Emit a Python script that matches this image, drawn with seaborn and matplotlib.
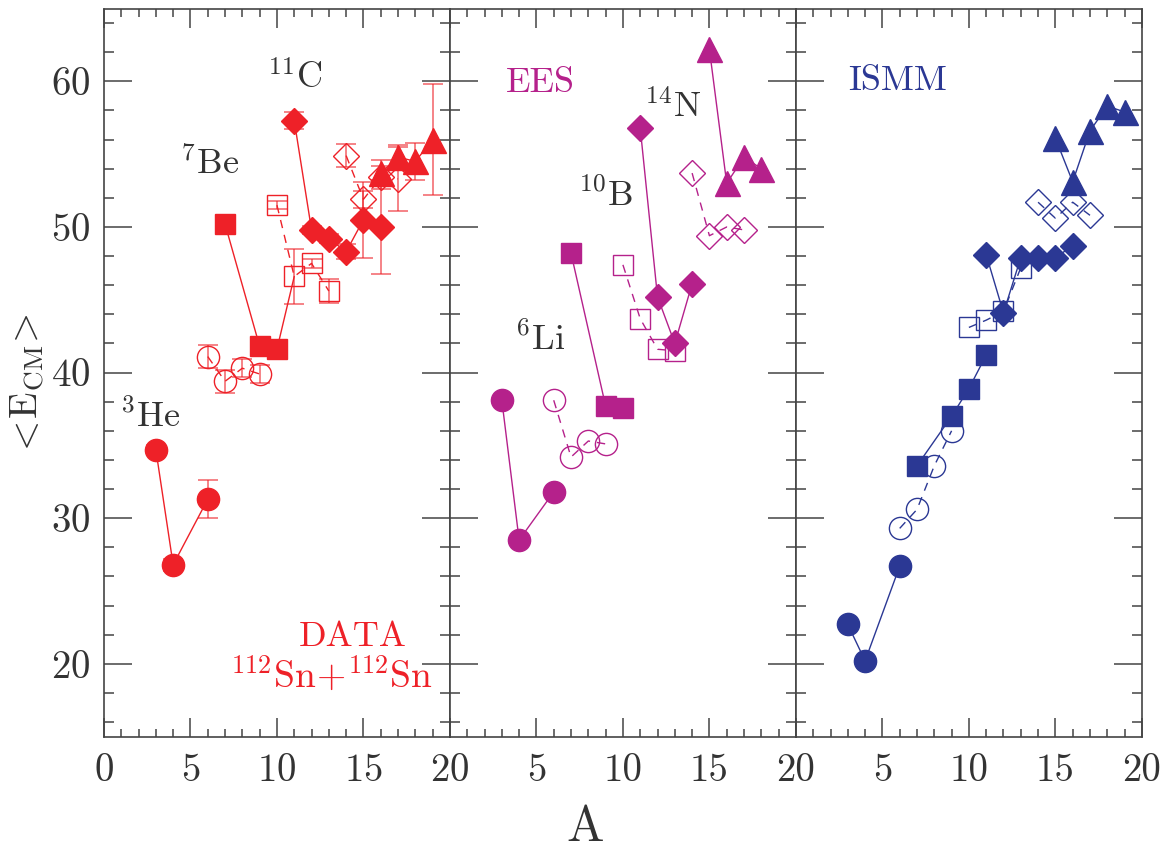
import numpy as np
import pandas as pd
import matplotlib
matplotlib.use("Agg")
import matplotlib.pyplot as plt
import seaborn as sns
from matplotlib.ticker import MultipleLocator, FuncFormatter

# =========================
# Data: <E_CM> vs A, three panels
# =========================
# --- DATA (112Sn+112Sn), with error bars ---
data_circ_A = [3, 4, 6]
data_circ_E = [34.7, 26.8, 31.3]
data_circ_err = [0.3, 0.4, 1.3]
data_ocirc_A = [6, 7, 8, 9]
data_ocirc_E = [41.1, 39.4, 40.3, 39.9]
data_ocirc_err = [0.8, 0.8, 0.6, 0.6]
data_sq_A = [7, 9, 10, 11]
data_sq_E = [50.2, 41.8, 41.6, 46.6]
data_sq_err = [0.3, 0.5, 0.6, 0.0]
data_osq_A = [10, 11, 12, 13]
data_osq_E = [51.5, 46.6, 47.5, 45.6]
data_osq_err = [0.3, 1.9, 0.3, 0.8]
data_dia_A = [11, 12, 13, 14, 15, 16]
data_dia_E = [57.3, 49.8, 49.2, 48.3, 50.5, 50.0]
data_dia_err = [0.6, 0.3, 0.3, 0.5, 2.6, 3.2]
data_odia_A = [14, 15, 16, 17]
data_odia_E = [54.9, 51.9, 53.4, 53.3]
data_odia_err = [0.8, 0.6, 0.8, 2.2]
data_tri_A = [16, 17, 18, 19]
data_tri_E = [53.7, 54.8, 54.5, 56.0]
data_tri_err = [0.9, 0.8, 1.3, 3.8]

# --- EES ---
ees_circ_A = [3, 4, 6]
ees_circ_E = [38.1, 28.5, 31.8]
ees_ocirc_A = [6, 7, 8, 9]
ees_ocirc_E = [38.1, 34.2, 35.3, 35.1]
ees_sq_A = [7, 9, 10]
ees_sq_E = [48.2, 37.7, 37.6]
ees_osq_A = [10, 11, 12, 13]
ees_osq_E = [47.4, 43.7, 41.6, 41.5]
ees_dia_A = [11, 12, 13, 14]
ees_dia_E = [56.8, 45.2, 42.0, 46.1]
ees_odia_A = [14, 15, 16, 17]
ees_odia_E = [53.7, 49.4, 50.0, 49.8]
ees_tri_A = [15, 16, 17, 18]
ees_tri_E = [62.2, 53.0, 54.8, 54.0]

# --- ISMM ---
ismm_circ_A = [3, 4, 6]
ismm_circ_E = [22.7, 20.2, 26.7]
ismm_ocirc_A = [6, 7, 8, 9]
ismm_ocirc_E = [29.3, 30.6, 33.6, 36.0]
ismm_sq_A = [7, 9, 10, 11]
ismm_sq_E = [33.6, 37.0, 38.9, 41.2]
ismm_osq_A = [10, 11, 12, 13]
ismm_osq_E = [43.1, 43.6, 44.2, 47.2]
ismm_dia_A = [11, 12, 13, 14, 15, 16]
ismm_dia_E = [48.1, 44.1, 47.9, 47.9, 47.9, 48.7]
ismm_odia_A = [14, 15, 16, 17]
ismm_odia_E = [51.7, 50.6, 51.7, 50.8]
ismm_tri_A = [15, 16, 17, 18, 19]
ismm_tri_E = [56.1, 53.1, 56.6, 58.3, 57.9]

red = "#EE2128"
magenta = "#B5218B"
blue = "#2B3894"
txt = "#333333"

# =========================
# Style
# =========================
sns.set_style("ticks")
plt.rcParams["font.family"] = "serif"
plt.rcParams["font.serif"] = ["cmr10", "DejaVu Serif"]
plt.rcParams["mathtext.fontset"] = "cm"
plt.rcParams["axes.unicode_minus"] = False
plt.rcParams["axes.formatter.use_mathtext"] = True

# marker style per series kind: (marker, size, filled, dashed)
kinds = {
    "circ": ("o", 16, True, False),
    "ocirc": ("o", 16, False, True),
    "sq": ("s", 14, True, False),
    "osq": ("s", 14, False, True),
    "dia": ("D", 13.5, True, False),
    "odia": ("D", 13, False, True),
    "tri": ("^", 18, True, False),
}


def draw_series(ax, A, E, kind, color, err=None, nmark=None):
    marker, ms, filled, dashed = kinds[kind]
    df = pd.DataFrame({"A": A, "E": E})
    if err is not None:
        m = np.array(err) > 0
        ax.errorbar(np.array(A)[m], np.array(E)[m], yerr=np.array(err)[m], fmt="none",
                    ecolor=color, alpha=0.65, elinewidth=1.2, capsize=7, capthick=1.2,
                    zorder=2)
    kws = dict(marker=marker, markersize=ms, markeredgecolor=color,
               markerfacecolor=color if filled else "none",
               markeredgewidth=1.0, linewidth=1.0)
    if dashed:
        kws["linestyle"] = (0, (6, 5))
    if nmark is not None:
        kws["markevery"] = list(range(nmark))
    sns.lineplot(data=df, x="A", y="E", ax=ax, color=color, errorbar=None, zorder=3, **kws)


fig = plt.figure(figsize=(11.72, 8.56), dpi=100)
left, width = 0.0887, 0.2952
bottom, height = 0.1395, 0.8505
axes = [fig.add_axes([left + i * width, bottom, width, height]) for i in range(3)]

# DATA panel
ax = axes[0]
draw_series(ax, data_circ_A, data_circ_E, "circ", red, data_circ_err)
draw_series(ax, data_ocirc_A, data_ocirc_E, "ocirc", red, data_ocirc_err)
draw_series(ax, data_sq_A, data_sq_E, "sq", red, data_sq_err, nmark=3)
draw_series(ax, data_osq_A, data_osq_E, "osq", red, data_osq_err)
draw_series(ax, data_dia_A, data_dia_E, "dia", red, data_dia_err)
draw_series(ax, data_odia_A, data_odia_E, "odia", red, data_odia_err)
draw_series(ax, data_tri_A, data_tri_E, "tri", red, data_tri_err)
ax.text(2.7, 37.0, r"$^{3}\mathrm{He}$", fontsize=26, color=txt, ha="center", va="center")
ax.text(6.1, 54.3, r"$^{7}\mathrm{Be}$", fontsize=26, color=txt, ha="center", va="center")
ax.text(11.0, 60.2, r"$^{11}\mathrm{C}$", fontsize=26, color=txt, ha="center", va="center")
ax.text(17.5, 21.8, "DATA", fontsize=26, color=red, ha="right", va="center")
ax.text(19.0, 19.3, r"$^{112}\mathrm{Sn}\!+\!{}^{112}\mathrm{Sn}$", fontsize=27, color=red,
        ha="right", va="center")

# EES panel
ax = axes[1]
draw_series(ax, ees_circ_A, ees_circ_E, "circ", magenta)
draw_series(ax, ees_ocirc_A, ees_ocirc_E, "ocirc", magenta)
draw_series(ax, ees_sq_A, ees_sq_E, "sq", magenta)
draw_series(ax, ees_osq_A, ees_osq_E, "osq", magenta)
draw_series(ax, ees_dia_A, ees_dia_E, "dia", magenta)
draw_series(ax, ees_odia_A, ees_odia_E, "odia", magenta)
draw_series(ax, ees_tri_A, ees_tri_E, "tri", magenta)
ax.text(5.2, 59.9, "EES", fontsize=26, color=magenta, ha="center", va="center")
ax.text(12.9, 58.2, r"$^{14}\mathrm{N}$", fontsize=26, color=txt, ha="center", va="center")
ax.text(9.0, 52.2, r"$^{10}\mathrm{B}$", fontsize=26, color=txt, ha="center", va="center")
ax.text(5.2, 42.3, r"$^{6}\mathrm{Li}$", fontsize=26, color=txt, ha="center", va="center")

# ISMM panel
ax = axes[2]
draw_series(ax, ismm_circ_A, ismm_circ_E, "circ", blue)
draw_series(ax, ismm_ocirc_A, ismm_ocirc_E, "ocirc", blue)
draw_series(ax, ismm_sq_A, ismm_sq_E, "sq", blue)
draw_series(ax, ismm_osq_A, ismm_osq_E, "osq", blue)
draw_series(ax, ismm_dia_A, ismm_dia_E, "dia", blue)
draw_series(ax, ismm_odia_A, ismm_odia_E, "odia", blue)
draw_series(ax, ismm_tri_A, ismm_tri_E, "tri", blue)
ax.text(5.85, 60.0, "ISMM", fontsize=26, color=blue, ha="center", va="center")

# =========================
# Axes formatting
# =========================
for i, ax in enumerate(axes):
    ax.set_xlim(0, 20)
    ax.set_ylim(15, 65)
    ax.xaxis.set_major_locator(MultipleLocator(5))
    ax.xaxis.set_minor_locator(MultipleLocator(1))
    ax.yaxis.set_major_locator(MultipleLocator(10))
    ax.yaxis.set_minor_locator(MultipleLocator(2))
    ax.tick_params(which="both", direction="in", top=True, right=True,
                   color="#444444", width=1.1, labelsize=28, labelcolor=txt)
    ax.tick_params(axis="x", which="major", length=14, pad=12)
    ax.tick_params(axis="x", which="minor", length=6)
    ax.tick_params(axis="y", which="major", length=20, pad=10)
    ax.tick_params(axis="y", which="minor", length=7)
    ax.set_xlabel("")
    ax.set_ylabel("")
    for s in ax.spines.values():
        s.set_color("#444444")
        s.set_linewidth(1.2)
    if i > 0:
        ax.set_yticklabels([])
        ax.xaxis.set_major_formatter(FuncFormatter(lambda v, p: "" if v == 0 else f"{v:g}"))

fig.text(0.499, 0.033, "A", fontsize=36, color=txt, ha="center", va="center")
fig.text(0.024, 0.55, r"$<\!\mathrm{E}_{\mathrm{CM}}\!>$", fontsize=28, color=txt,
         rotation=90, ha="center", va="center")

fig.savefig("out.png", dpi=100)
